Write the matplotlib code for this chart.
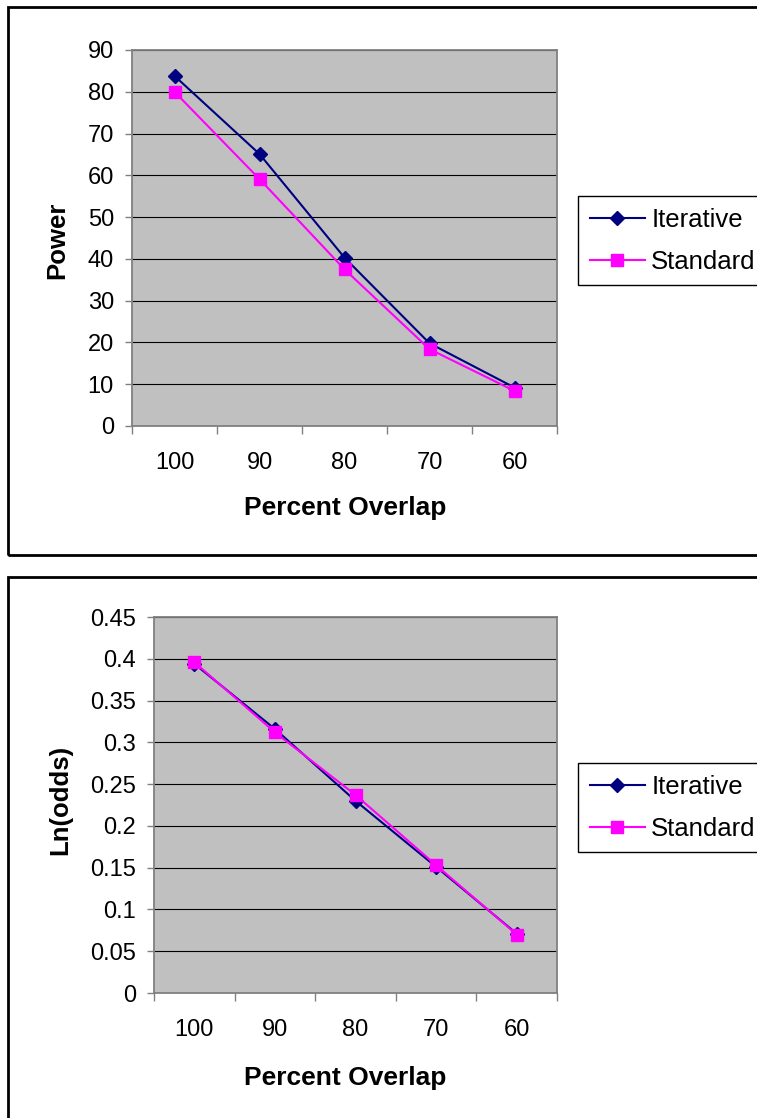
import matplotlib
matplotlib.use("Agg")
import matplotlib.pyplot as plt
from matplotlib.patches import Rectangle

plt.rcParams['font.family'] = ['Liberation Sans', 'DejaVu Sans']

# data
overlap = ["100", "90", "80", "70", "60"]
power_iterative = [83.8, 65.1, 40.3, 19.8, 9.2]
power_standard = [80.0, 59.1, 37.5, 18.4, 8.4]
lnodds_iterative = [0.394, 0.316, 0.230, 0.151, 0.071]
lnodds_standard = [0.396, 0.312, 0.237, 0.153, 0.070]
power_ticks = [0, 10, 20, 30, 40, 50, 60, 70, 80, 90]
lnodds_ticks = [0, 0.05, 0.1, 0.15, 0.2, 0.25, 0.3, 0.35, 0.4, 0.45]
lnodds_ticklabels = ["0", "0.05", "0.1", "0.15", "0.2", "0.25", "0.3", "0.35", "0.4", "0.45"]

W, H = 757, 1118
fig = plt.figure(figsize=(W / 100, H / 100), dpi=100)


def fx(px):
    return px / W


def fy(py):
    return 1 - py / H


# panel frames
fig.patches.append(Rectangle((fx(8), fy(555)), 1.05, fy(7) - fy(555),
                             transform=fig.transFigure, fill=False,
                             edgecolor='black', linewidth=2))
fig.patches.append(Rectangle((fx(8), -0.05), 1.05, fy(577) + 0.05,
                             transform=fig.transFigure, fill=False,
                             edgecolor='black', linewidth=2))


def draw(rect, it, st, yticks, ylabels, ylim, ylabel, ylabel_xy, xlabel_y, legend_y):
    ax = fig.add_axes(rect)
    ax.set_facecolor('#C0C0C0')
    x = list(range(1, len(overlap) + 1))
    ax.plot(x, it, color='#000080', marker='D', markersize=7.5, linewidth=1.5,
            label='Iterative', zorder=3)
    ax.plot(x, st, color='#FF00FF', marker='s', markersize=8.5, linewidth=1.5,
            label='Standard', zorder=4)
    ax.set_xlim(0.5, len(overlap) + 0.5)
    ax.set_ylim(*ylim)
    ax.set_yticks(yticks)
    ax.set_yticklabels(ylabels)
    ax.yaxis.grid(True, color='black', linewidth=0.8)
    ax.set_axisbelow(True)
    ax.set_xticks([i + 0.5 for i in range(len(overlap) + 1)])
    ax.set_xticklabels([])
    ax.set_xticks(x, minor=True)
    ax.set_xticklabels(overlap, minor=True)
    ax.tick_params(axis='x', which='major', length=6, width=1, color='#808080',
                   direction='out')
    ax.tick_params(axis='x', which='minor', length=0, pad=19, labelsize=17)
    ax.tick_params(axis='y', length=5, width=1, color='#808080', pad=8,
                   labelsize=17)
    for s in ax.spines.values():
        s.set_color('#808080')
        s.set_linewidth(1.3)
    fig.text(fx(ylabel_xy[0]), fy(ylabel_xy[1]), ylabel, rotation=90,
             ha='center', va='center', fontsize=18.5, fontweight='bold')
    fig.text(fx(345), fy(xlabel_y), 'Percent Overlap', ha='center',
             va='center', fontsize=19, fontweight='bold')
    leg = ax.legend(loc='upper left', bbox_to_anchor=(fx(578), fy(legend_y)),
                    bbox_transform=fig.transFigure, fontsize=18.5,
                    fancybox=False, framealpha=1, edgecolor='black',
                    handlelength=2.15, handletextpad=0.25, borderpad=0.45,
                    labelspacing=0.7, borderaxespad=0)
    leg.get_frame().set_linewidth(1)
    return ax


draw([fx(132), fy(426), fx(557) - fx(132), fy(50) - fy(426)],
     power_iterative, power_standard, power_ticks,
     [str(t) for t in power_ticks], (0, 90), 'Power', (57, 240), 508, 196)

draw([fx(154), fy(993), fx(557) - fx(154), fy(617) - fy(993)],
     lnodds_iterative, lnodds_standard, lnodds_ticks, lnodds_ticklabels,
     (0, 0.45), 'Ln(odds)', (60, 800), 1078, 763)

fig.savefig('out.png', dpi=100)
